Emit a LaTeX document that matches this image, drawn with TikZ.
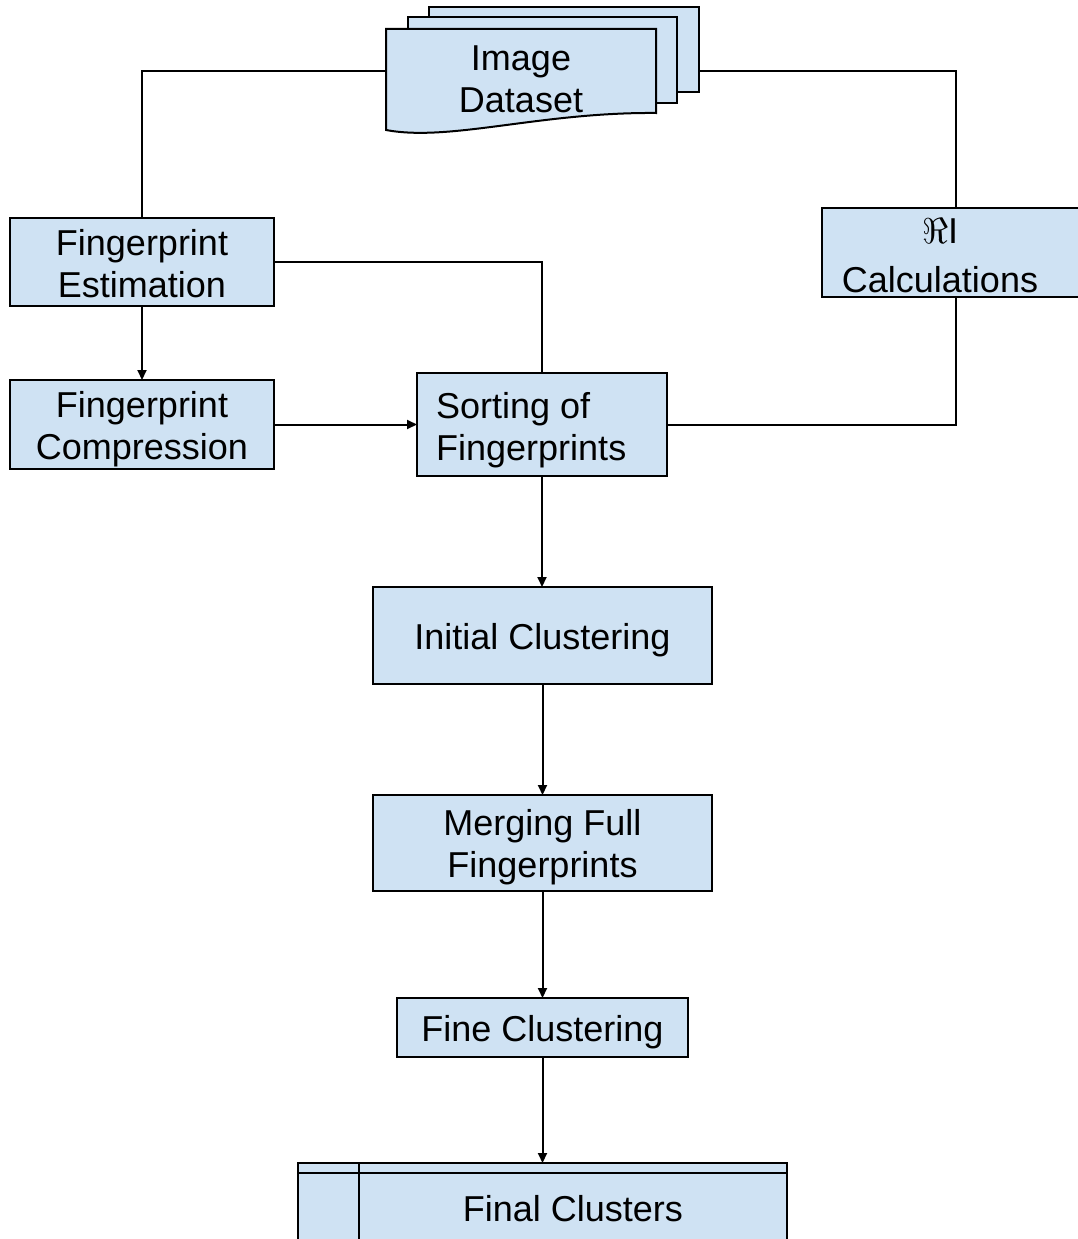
\RequirePackage{fix-cm}
\documentclass[tikz,border=0pt]{standalone}
\usepackage{fontspec}
\setmainfont{Liberation Sans}
\usetikzlibrary{arrows.meta}
\definecolor{boxfill}{HTML}{CFE2F3}
\begin{document}
\begin{tikzpicture}[x=1pt,y=-1pt,
  box/.style={draw=black, fill=boxfill, line width=2pt, inner sep=0pt, outer sep=0pt},
  lbl/.style={font=\fontsize{36}{42}\selectfont, inner sep=0pt, anchor=base, align=center},
  link/.style={line width=2pt},
  arr/.style={link, -{Triangle[length=10pt,width=9pt]}}]
\useasboundingbox (0,0) rectangle (1078,1239);
\clip (0,0) rectangle (1078,1239);

% stacked document shape
\draw[box] (429,7) rectangle (699,92);
\draw[box] (408,17) rectangle (677,103);
\draw[box] (386,29) -- (656,29) -- (656,113)
  .. controls (540,112) and (450,142) .. (386,130) -- cycle;
\coordinate (docL) at (386,71);
\coordinate (docR) at (699,71);
\node[lbl] (imgT) at (521,112) {Image\\Dataset};

% process boxes
\node[box, minimum width=264pt, minimum height=88pt] (est) at (142,262) {};
\node[box, minimum width=264pt, minimum height=89pt] (comp) at (142,424.5) {};
\node[box, minimum width=250pt, minimum height=103pt] (sort) at (542,424.5) {};
\node[box, minimum width=268pt, minimum height=89pt] (ri) at (956,252.5) {};
\node[box, minimum width=339pt, minimum height=97pt] (init) at (542.5,635.5) {};
\node[box, minimum width=339pt, minimum height=96pt] (merge) at (542.5,843) {};
\node[box, minimum width=291pt, minimum height=59pt] (fine) at (542.5,1027.5) {};
\node[box, minimum width=489pt, minimum height=97pt] (final) at (542.5,1211.5) {};
\draw[link] ([yshift=-10pt]final.north west) -- ([yshift=-10pt]final.north east);
\draw[link] ([xshift=61pt]final.north west) -- ([xshift=61pt]final.south west);

% labels (base anchor sits on the last line)
\node[lbl] (estT) at (142,297) {Fingerprint\\Estimation};
\node[lbl] (compT) at (142,459) {Fingerprint\\Compression};
\node[lbl, anchor=base west, align=left] (sortT) at (436,460) {Sorting of\\Fingerprints};
\node[lbl] (riT) at (940,292) {$\Re$I\\[7pt]Calculations};
\node[lbl] (initT) at (542.5,649) {Initial Clustering};
\node[lbl] (mergeT) at (542.5,877) {Merging Full\\Fingerprints};
\node[lbl] (fineT) at (542.5,1041) {Fine Clustering};
\node[lbl] (finalT) at (573,1221) {Final Clusters};

% connectors
\draw[link] (docL) -| (est.north);
\draw[link] (docR) -| (ri.north);
\draw[arr] (est) -- (comp);
\draw[link] (est.east) -| (sort.north);
\draw[arr] (comp) -- (sort);
\draw[link] (sort.east) -| (ri.south);
\draw[arr] (sort.south) -- (sort.south |- init.north);
\draw[arr] (init) -- (merge);
\draw[arr] (merge) -- (fine);
\draw[arr] (fine) -- (final);
\end{tikzpicture}
\end{document}
